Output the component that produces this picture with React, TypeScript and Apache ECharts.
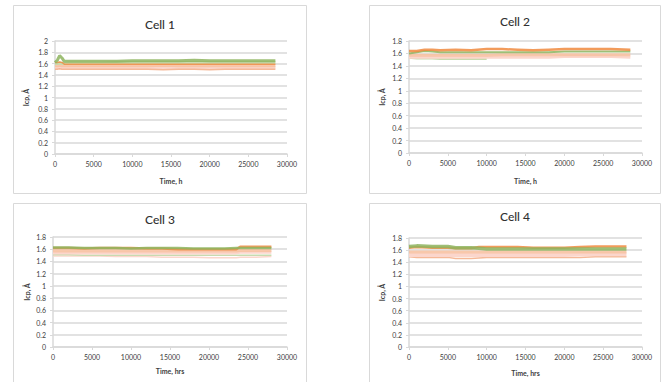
import React, { useEffect, useRef } from "react";
import * as echarts from "echarts";

// ---- Data ----
const titles = ["Cell 1", "Cell 2", "Cell 3", "Cell 4"];
const xNames = ["Time, h", "Time, h", "Time, hrs", "Time, hrs"];
const yName = "Icp, Å";
const yMaxes = [2, 1.8, 1.8, 1.8];

const c1Time = [0, 300, 600, 900, 1200, 2000, 4000, 6000, 8000, 10000, 12000, 14000, 16000, 18000, 20000, 22000, 24000, 26000, 28500];
const c1LightGreen = [1.6, 1.6, 1.61, 1.6, 1.6, 1.61, 1.61, 1.61, 1.62, 1.62, 1.62, 1.62, 1.62, 1.62, 1.62, 1.62, 1.62, 1.62, 1.62];
const c1Green = [1.62, 1.66, 1.74, 1.7, 1.64, 1.64, 1.64, 1.64, 1.64, 1.65, 1.65, 1.65, 1.65, 1.66, 1.65, 1.65, 1.65, 1.65, 1.65];
const c1Peach = [1.56, 1.56, 1.57, 1.56, 1.56, 1.56, 1.56, 1.56, 1.56, 1.56, 1.56, 1.57, 1.56, 1.56, 1.56, 1.56, 1.56, 1.56, 1.56];
const c1Pink = [1.53, 1.53, 1.54, 1.53, 1.53, 1.53, 1.53, 1.53, 1.53, 1.53, 1.53, 1.53, 1.53, 1.53, 1.53, 1.53, 1.53, 1.53, 1.53];
const c1Orange = [1.62, 1.62, 1.63, 1.62, 1.59, 1.59, 1.59, 1.59, 1.59, 1.59, 1.59, 1.59, 1.59, 1.59, 1.59, 1.59, 1.59, 1.59, 1.59];
const c1Low = [1.5, 1.5, 1.51, 1.5, 1.5, 1.5, 1.5, 1.5, 1.5, 1.5, 1.5, 1.49, 1.5, 1.5, 1.49, 1.5, 1.5, 1.5, 1.5];

const c2Time = [0, 1000, 2000, 3000, 4000, 6000, 8000, 10000, 12000, 14000, 16000, 18000, 20000, 22000, 24000, 26000, 28500];
const c2LightGreen = [1.53, 1.52, 1.52, 1.52, 1.51, 1.51, 1.51, 1.51, null, null, null, null, null, null, null, null, null];
const c2Pink = [1.54, 1.54, 1.54, 1.54, 1.54, 1.54, 1.54, 1.54, 1.54, 1.54, 1.54, 1.54, 1.55, 1.55, 1.55, 1.55, 1.54];
const c2Peach = [1.57, 1.57, 1.57, 1.57, 1.57, 1.57, 1.57, 1.57, 1.58, 1.58, 1.58, 1.58, 1.58, 1.58, 1.58, 1.58, 1.58];
const c2Green = [1.6, 1.62, 1.64, 1.63, 1.62, 1.62, 1.62, 1.62, 1.62, 1.62, 1.62, 1.62, 1.63, 1.63, 1.63, 1.63, 1.63];
const c2Orange = [1.64, 1.64, 1.66, 1.66, 1.65, 1.66, 1.65, 1.67, 1.67, 1.66, 1.65, 1.66, 1.67, 1.67, 1.67, 1.67, 1.66];

const c3Time = [0, 2000, 4000, 6000, 8000, 10000, 12000, 14000, 16000, 18000, 20000, 22000, 23500, 24000, 26000, 28000];
const c3Low = [1.49, 1.49, 1.49, 1.49, 1.48, 1.48, 1.48, 1.47, 1.47, 1.47, 1.46, 1.46, 1.46, 1.47, 1.47, 1.48];
const c3LightGreen = [1.51, 1.51, 1.5, 1.5, 1.5, 1.5, 1.5, 1.5, 1.5, 1.5, 1.5, 1.5, 1.5, 1.5, 1.5, 1.5];
const c3Pink = [1.54, 1.54, 1.54, 1.54, 1.54, 1.54, 1.54, 1.54, 1.54, 1.54, 1.54, 1.54, 1.54, 1.55, 1.55, 1.55];
const c3Peach = [1.57, 1.57, 1.57, 1.57, 1.57, 1.57, 1.57, 1.57, 1.57, 1.57, 1.57, 1.57, 1.57, 1.58, 1.58, 1.58];
const c3Orange = [1.62, 1.62, 1.61, 1.62, 1.62, 1.62, 1.61, 1.61, 1.6, 1.6, 1.6, 1.6, 1.6, 1.64, 1.64, 1.64];
const c3Green = [1.63, 1.63, 1.62, 1.62, 1.62, 1.61, 1.62, 1.62, 1.62, 1.61, 1.61, 1.61, 1.62, 1.62, 1.62, 1.62];

const c4Time = [0, 1000, 3000, 5000, 6000, 8000, 9000, 10000, 12000, 14000, 16000, 18000, 20000, 22000, 24000, 26000, 28000];
const c4Low = [1.49, 1.48, 1.48, 1.48, 1.46, 1.46, 1.47, 1.48, 1.48, 1.48, 1.48, 1.48, 1.48, 1.48, 1.49, 1.49, 1.49];
const c4Pink = [1.52, 1.52, 1.52, 1.52, 1.52, 1.52, 1.52, 1.52, 1.52, 1.52, 1.52, 1.52, 1.52, 1.53, 1.53, 1.53, 1.53];
const c4Peach = [1.57, 1.57, 1.57, 1.57, 1.57, 1.57, 1.57, 1.57, 1.57, 1.57, 1.57, 1.57, 1.57, 1.57, 1.57, 1.57, 1.57];
const c4Orange = [1.64, 1.65, 1.64, 1.64, 1.63, 1.63, 1.65, 1.65, 1.65, 1.65, 1.64, 1.64, 1.64, 1.65, 1.66, 1.66, 1.66];
const c4Green = [1.66, 1.67, 1.66, 1.66, 1.64, 1.64, 1.63, 1.62, 1.62, 1.62, 1.62, 1.62, 1.62, 1.62, 1.62, 1.62, 1.62];

const GREEN = "#8db45e";
const LIGHTGREEN = "#c8dbb0";
const ORANGE = "#f08a3e";
const PEACH = "#f7c2a2";
const PINK = "#fbd6cc";
const LOW = "#f4b08c";

type S = { t: number[]; v: (number | null)[]; color: string; width: number; opacity: number };

const panels: S[][] = [
  [
    { t: c1Time, v: c1Pink, color: PINK, width: 3, opacity: 1 },
    { t: c1Time, v: c1Peach, color: PEACH, width: 3, opacity: 0.9 },
    { t: c1Time, v: c1Low, color: LOW, width: 1.5, opacity: 0.9 },
    { t: c1Time, v: c1LightGreen, color: LIGHTGREEN, width: 3, opacity: 1 },
    { t: c1Time, v: c1Orange, color: ORANGE, width: 1.5, opacity: 0.8 },
    { t: c1Time, v: c1Green, color: GREEN, width: 3, opacity: 0.85 },
  ],
  [
    { t: c2Time, v: c2LightGreen, color: LIGHTGREEN, width: 2, opacity: 1 },
    { t: c2Time, v: c2Pink, color: PINK, width: 3, opacity: 1 },
    { t: c2Time, v: c2Peach, color: PEACH, width: 3, opacity: 0.9 },
    { t: c2Time, v: c2Green, color: GREEN, width: 2, opacity: 0.85 },
    { t: c2Time, v: c2Orange, color: ORANGE, width: 2.5, opacity: 0.85 },
  ],
  [
    { t: c3Time, v: c3Low, color: PINK, width: 1.5, opacity: 1 },
    { t: c3Time, v: c3LightGreen, color: LIGHTGREEN, width: 1.5, opacity: 1 },
    { t: c3Time, v: c3Pink, color: PINK, width: 3, opacity: 1 },
    { t: c3Time, v: c3Peach, color: PEACH, width: 3, opacity: 0.9 },
    { t: c3Time, v: c3Orange, color: ORANGE, width: 2.5, opacity: 0.85 },
    { t: c3Time, v: c3Green, color: GREEN, width: 2.5, opacity: 0.85 },
  ],
  [
    { t: c4Time, v: c4Low, color: LOW, width: 1.5, opacity: 0.9 },
    { t: c4Time, v: c4Pink, color: PINK, width: 4, opacity: 1 },
    { t: c4Time, v: c4Peach, color: PEACH, width: 3, opacity: 0.9 },
    { t: c4Time, v: c4Orange, color: ORANGE, width: 2.5, opacity: 0.85 },
    { t: c4Time, v: c4Green, color: GREEN, width: 3.5, opacity: 0.85 },
  ],
];

const grids = [
  { left: 55, top: 41, width: 232, height: 113 },
  { left: 409, top: 41, width: 233, height: 112 },
  { left: 53, top: 237, width: 234, height: 110 },
  { left: 409, top: 238, width: 233, height: 109 },
];
const boxes = [
  { x: 13.5, y: 5.5, width: 293, height: 188 },
  { x: 369.5, y: 5.5, width: 291, height: 188 },
  { x: 13.5, y: 203.5, width: 293, height: 190 },
  { x: 369.5, y: 203.5, width: 291, height: 190 },
];
const titlePos = [
  { x: 160, y: 18 },
  { x: 515, y: 15 },
  { x: 160, y: 213 },
  { x: 515, y: 210 },
];
const xNameGap = [23, 24, 20, 22];
const yNameGap = [26, 24, 23, 24];

const FONT = "Lato, 'Open Sans', sans-serif";
const GRID_COLOR = "#d9d9d9";
const TEXT = "#404040";

export default function App() {
  const ref = useRef<HTMLDivElement>(null);
  useEffect(() => {
    if (!ref.current) return;
    const chart = echarts.init(ref.current, undefined, { renderer: "svg" });
    const series: any[] = [];
    panels.forEach((ps, gi) => {
      ps.forEach((s) => {
        series.push({
          type: "line",
          xAxisIndex: gi,
          yAxisIndex: gi,
          showSymbol: false,
          symbol: "none",
          connectNulls: false,
          data: s.t.map((t, i) => [t, s.v[i]]),
          lineStyle: { color: s.color, width: s.width, opacity: s.opacity },
          itemStyle: { color: s.color },
        });
      });
    });
    chart.setOption({
      animation: false,
      backgroundColor: "#ffffff",
      textStyle: { fontFamily: FONT },
      title: titles.map((t, i) => ({
        text: t,
        left: titlePos[i].x - 0,
        top: titlePos[i].y - 0,
        padding: 0,
        textAlign: "center",
        textStyle: { fontFamily: FONT, fontSize: 12, fontWeight: 500, color: "#303030" },
      })),
      graphic: boxes.map((b) => ({
        type: "rect",
        shape: b,
        style: { fill: "none", stroke: GRID_COLOR, lineWidth: 1 },
        silent: true,
        z: -1,
      })),
      grid: grids.map((g) => ({ ...g })),
      xAxis: grids.map((_, i) => ({
        type: "value",
        gridIndex: i,
        min: 0,
        max: 30000,
        interval: 5000,
        name: xNames[i],
        nameLocation: "middle",
        nameGap: xNameGap[i],
        nameTextStyle: { fontFamily: FONT, fontSize: 7, fontWeight: "bold", color: TEXT },
        axisLine: { show: true, lineStyle: { color: GRID_COLOR, width: 1.5 } },
        axisTick: { show: true, length: 3, lineStyle: { color: GRID_COLOR } },
        axisLabel: { fontFamily: FONT, fontSize: 7, color: TEXT, margin: 6, formatter: (v: number) => String(v) },
        splitLine: { show: false },
      })),
      yAxis: grids.map((_, i) => ({
        type: "value",
        gridIndex: i,
        min: 0,
        max: yMaxes[i],
        interval: 0.2,
        name: yName,
        nameLocation: "middle",
        nameGap: yNameGap[i],
        nameRotate: 90,
        nameTextStyle: { fontFamily: FONT, fontSize: 7, fontWeight: "bold", color: TEXT },
        axisLine: { show: true, lineStyle: { color: GRID_COLOR, width: 1.5 } },
        axisTick: { show: true, length: 3, lineStyle: { color: GRID_COLOR } },
        axisLabel: {
          fontFamily: FONT,
          fontSize: 7,
          color: TEXT,
          margin: 7,
          formatter: (v: number) => String(Math.round(v * 10) / 10),
        },
        splitLine: { show: true, lineStyle: { color: GRID_COLOR, width: 1.5 } },
      })),
      series,
    });
    return () => chart.dispose();
  }, []);
  return (
    <div
      ref={ref}
      style={{ position: "fixed", left: 0, top: 0, width: 664, height: 382, background: "#fff" }}
    />
  );
}
